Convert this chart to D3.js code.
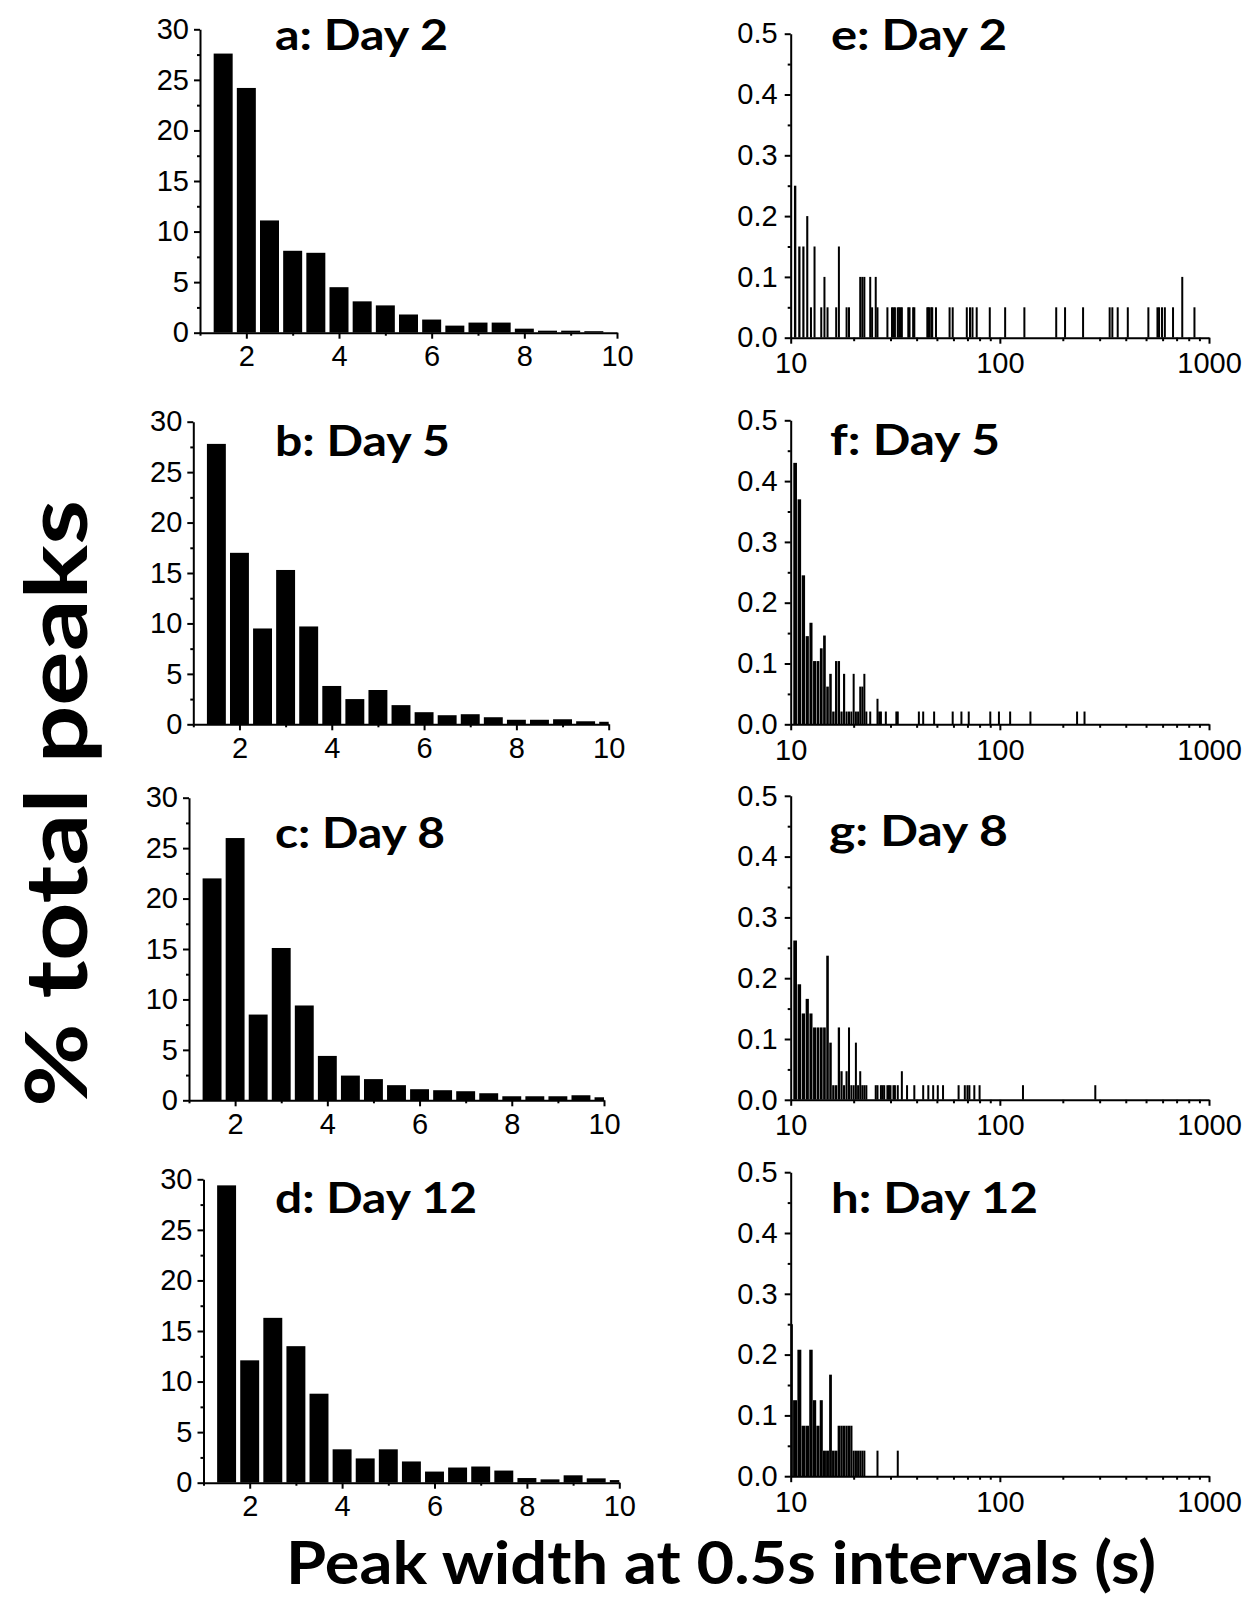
<!DOCTYPE html>
<html><head><meta charset="utf-8">
<script src="https://cdn.jsdelivr.net/npm/d3@7"></script>
<style>body{margin:0;background:#fff} svg{display:block;background:#fff}</style>
</head><body>
<svg id="chart" width="1260" height="1600"></svg>
<script>
// ---------- DATA ----------
// Left column: peak width bins (s) and % of total peaks
const binCenters = [1.5,2,2.5,3,3.5,4,4.5,5,5.5,6,6.5,7,7.5,8,8.5,9,9.5,10];
const pctDay2  = [27.6,24.2,11.1,8.1,7.9,4.5,3.1,2.7,1.8,1.3,0.7,1.0,1.0,0.4,0.2,0.2,0.15,0];
const pctDay5  = [27.8,17.0,9.5,15.3,9.7,3.8,2.5,3.4,1.9,1.2,0.9,1.0,0.7,0.45,0.45,0.5,0.3,0.25];
const pctDay8  = [22.0,26.0,8.5,15.1,9.4,4.4,2.45,2.1,1.5,1.1,1.0,0.9,0.7,0.4,0.4,0.4,0.5,0.3];
const pctDay12 = [29.4,12.1,16.3,13.5,8.8,3.3,2.4,3.3,2.1,1.1,1.5,1.6,1.2,0.46,0.33,0.73,0.43,0.26];

// Right column: long peak widths (s, 0.5 s bins) and % of total peaks
const longWidthsDay2 = [10,10.5,11,11.5,12,12.5,13,14,14.5,15,16.5,17,18.5,19,21.5,22,22.5,24,24.5,25.5,26,
  29,30.5,31,31.5,32.5,33,33.5,34,36.5,37,38.5,39,45,45.5,46,47,47.5,49.5,57.5,59.5,69.5,72,74,77.5,
  89.5,106,131,186,205,250,335,345,366,409,513,567,577,596,615,673,745,852];
const longPctDay2 = [0.25,0.25,0.15,0.15,0.2,0.05,0.15,0.05,0.1,0.05,0.05,0.15,0.05,0.05,0.1,0.1,0.1,0.1,0.05,0.1,0.05,
  0.05,0.05,0.05,0.05,0.05,0.05,0.05,0.05,0.05,0.05,0.05,0.05,0.05,0.05,0.05,0.05,0.05,0.05,0.05,0.05,0.05,0.05,0.05,0.05,
  0.05,0.05,0.05,0.05,0.05,0.05,0.05,0.05,0.05,0.05,0.05,0.05,0.05,0.05,0.05,0.05,0.1,0.05];

const longWidthsDay5 = [10.5,11,11.5,12,12.5,13,13.5,14,14.5,15,15.5,16,16.5,17,17.5,18,18.5,19,19.5,20,
  20.5,21,21.5,22,22.5,23,24,26,26.5,27,28.5,32,32.5,41,43,48.5,59.5,65.5,71,90,99,112,140,234,254];
const longPctDay5 = [0.43,0.37,0.245,0.145,0.167,0.104,0.104,0.125,0.146,0.062,0.083,0.021,0.104,0.104,0.021,0.083,0.021,0.021,0.021,0.083,
  0.021,0.021,0.062,0.062,0.083,0.021,0.021,0.042,0.021,0.021,0.021,0.021,0.021,0.021,0.021,0.021,0.021,0.021,0.021,0.021,0.021,0.021,0.021,0.021,0.021];

const longWidthsDay8 = [10.5,11,11.5,12,12.5,13,13.5,14,14.5,15,15.5,16,16.5,17,17.5,18,18.5,19,19.5,20,
  20.5,21,21.5,22,22.5,23,25.5,26,27,27.5,28,29,29.5,30,31,31.5,32.5,34,36,39,
  43,45.5,48,50.5,53.5,63.5,68,70,71.5,75.5,80,129,286];
const longPctDay8 = [0.262,0.19,0.142,0.166,0.142,0.119,0.119,0.119,0.119,0.237,0.094,0.024,0.024,0.119,0.047,0.024,0.047,0.119,0.024,0.024,
  0.094,0.024,0.047,0.024,0.024,0.024,0.024,0.024,0.024,0.024,0.024,0.024,0.024,0.024,0.024,0.024,0.024,0.047,0.024,0.024,
  0.024,0.024,0.024,0.024,0.024,0.024,0.024,0.024,0.024,0.024,0.024,0.024,0.024];

const longWidthsDay12 = [10,10.5,11,11.5,12,12.5,13,13.5,14,14.5,15,15.5,16,16.5,17,17.5,18,18.5,19,19.5,
  20,20.5,21,21.5,22,22.5,26,32.5];
const longPctDay12 = [0.25,0.125,0.208,0.083,0.083,0.208,0.125,0.083,0.125,0.042,0.042,0.167,0.042,0.042,0.083,0.083,0.083,0.083,0.083,0.083,
  0.042,0.042,0.042,0.042,0.042,0.042,0.042,0.042];

const leftTitles  = ["a: Day 2","b: Day 5","c: Day 8","d: Day 12"];
const rightTitles = ["e: Day 2","f: Day 5","g: Day 8","h: Day 12"];
const leftYTicks = [0,5,10,15,20,25,30];
const leftXTicks = [2,4,6,8,10];
const rightYTicks = [0,0.1,0.2,0.3,0.4,0.5];
const rightXTicks = [10,100,1000];
const yLabel = "% total peaks";
const xLabel = "Peak width at 0.5s intervals (s)";

// ---------- LAYOUT ----------
const svg = d3.select('#chart');
const TICK_FONT = '"Liberation Sans", Arial, sans-serif';
const TITLE_FONT = 'Lato, "Open Sans", sans-serif';
const TICK_SIZE = 29;

function styleAxis(g, fontSize) {
  g.select('.domain').attr('stroke', '#000').attr('stroke-width', 2);
  g.selectAll('.tick line').attr('stroke', '#000').attr('stroke-width', 2);
  g.selectAll('.tick text').attr('font-family', TICK_FONT).attr('font-size', fontSize).attr('fill', '#000');
}

let clipCount = 0;
function leftPanel(cfg, values, title) {
  const x = d3.scaleLinear().domain([1, 10]).range([cfg.x0, cfg.x1]);
  const y = d3.scaleLinear().domain([0, 30]).range([cfg.bottom, cfg.top]);
  const g = svg.append('g');
  const id = 'clip' + (clipCount++);
  g.append('clipPath').attr('id', id).append('rect')
    .attr('x', cfg.x0).attr('y', cfg.top - 10).attr('width', cfg.x1 - cfg.x0).attr('height', cfg.bottom - cfg.top + 10);
  const barW = x(1.41) - x(1);
  g.append('g').attr('clip-path', `url(#${id})`)
    .selectAll('rect').data(binCenters.map((c, i) => ({ c, v: values[i] }))).join('rect')
    .attr('x', d => x(d.c) - barW / 2).attr('width', barW)
    .attr('y', d => y(d.v)).attr('height', d => y(0) - y(d.v)).attr('fill', '#000');

  const yMinor = g.append('g').attr('transform', `translate(${cfg.x0},0)`)
    .call(d3.axisLeft(y).tickValues([2.5,7.5,12.5,17.5,22.5,27.5]).tickSize(3).tickFormat(''));
  yMinor.select('.domain').remove(); styleAxis(yMinor, TICK_SIZE);
  const xMinor = g.append('g').attr('transform', `translate(0,${cfg.bottom})`)
    .call(d3.axisBottom(x).tickValues([1,3,5,7,9]).tickSize(3).tickFormat(''));
  xMinor.select('.domain').remove(); styleAxis(xMinor, TICK_SIZE);

  const ya = g.append('g').attr('transform', `translate(${cfg.x0},0)`)
    .call(d3.axisLeft(y).tickValues(leftYTicks).tickSize(6).tickSizeOuter(0).tickPadding(5));
  styleAxis(ya, TICK_SIZE);
  const xa = g.append('g').attr('transform', `translate(0,${cfg.bottom})`)
    .call(d3.axisBottom(x).tickValues(leftXTicks).tickSize(6).tickSizeOuter(0).tickPadding(7));
  styleAxis(xa, TICK_SIZE);

  g.append('text').attr('x', cfg.tx).attr('y', cfg.ty).text(title)
    .attr('font-family', TITLE_FONT).attr('font-weight', 700).attr('font-size', 42)
    .attr('textLength', cfg.tl).attr('lengthAdjust', 'spacingAndGlyphs').attr('fill', '#000');
}

function rightPanel(cfg, widths, values, title) {
  const x = d3.scaleLog().domain([10, 1000]).range([790.7, 1209]);
  const y = d3.scaleLinear().domain([0, 0.5]).range([cfg.bottom, cfg.top]);
  const g = svg.append('g');
  const id = 'clip' + (clipCount++);
  g.append('clipPath').attr('id', id).append('rect')
    .attr('x', x(10)).attr('y', cfg.top - 10).attr('width', x(1000) - x(10)).attr('height', cfg.bottom - cfg.top + 10);
  const data = widths.map((w, i) => ({ w, v: values[i] }));
  const bw = d => Math.max(2, (x(d.w + 0.25) - x(d.w - 0.25)) * cfg.frac);
  g.append('g').attr('clip-path', `url(#${id})`)
    .selectAll('rect').data(data).join('rect')
    .attr('x', d => x(d.w) - bw(d) / 2).attr('width', bw)
    .attr('y', d => y(d.v)).attr('height', d => y(0) - y(d.v)).attr('fill', '#000');

  const minorX = [];
  [10, 100].forEach(dec => { for (let k = 2; k <= 9; k++) minorX.push(k * dec); });
  const yMinor = g.append('g').attr('transform', `translate(${x(10)},0)`)
    .call(d3.axisLeft(y).tickValues([0.05,0.15,0.25,0.35,0.45]).tickSize(3).tickFormat(''));
  yMinor.select('.domain').remove(); styleAxis(yMinor, TICK_SIZE);
  const xMinor = g.append('g').attr('transform', `translate(0,${cfg.bottom})`)
    .call(d3.axisBottom(x).tickValues(minorX).tickSize(3.5).tickFormat(''));
  xMinor.select('.domain').remove(); styleAxis(xMinor, TICK_SIZE);

  const ya = g.append('g').attr('transform', `translate(${x(10)},0)`)
    .call(d3.axisLeft(y).tickValues(rightYTicks).tickSize(6).tickSizeOuter(0).tickPadding(7).tickFormat(d3.format('.1f')));
  styleAxis(ya, TICK_SIZE);
  const xa = g.append('g').attr('transform', `translate(0,${cfg.bottom})`)
    .call(d3.axisBottom(x).tickValues(rightXTicks).tickSize(6).tickSizeOuter(0).tickPadding(9).tickFormat(d3.format('d')));
  styleAxis(xa, TICK_SIZE);

  g.append('text').attr('x', cfg.tx).attr('y', cfg.ty).text(title)
    .attr('font-family', TITLE_FONT).attr('font-weight', 700).attr('font-size', 42)
    .attr('textLength', cfg.tl).attr('lengthAdjust', 'spacingAndGlyphs').attr('fill', '#000');
}

const leftCfg = [
  { x0: 200,   x1: 617,   top: 29.3,   bottom: 332.7,  tx: 275, ty: 50,     tl: 173 },
  { x0: 193.3, x1: 608.7, top: 421.7,  bottom: 724.3,  tx: 275, ty: 456,    tl: 175 },
  { x0: 189,   x1: 604,   top: 797.7,  bottom: 1100.3, tx: 275, ty: 847.7,  tl: 170 },
  { x0: 203.5, x1: 619.3, top: 1179.3, bottom: 1482.7, tx: 275, ty: 1213.3, tl: 202 }
];
const rightCfg = [
  { top: 33.7,   bottom: 337.7,  tx: 831, ty: 50,   tl: 176, frac: 0.55 },
  { top: 420.3,  bottom: 724.3,  tx: 830, ty: 455,  tl: 170, frac: 0.85 },
  { top: 795.8,  bottom: 1099.8, tx: 829, ty: 846,  tl: 179, frac: 0.85 },
  { top: 1172.2, bottom: 1476.2, tx: 831, ty: 1213, tl: 207, frac: 0.95 }
];

const leftSeries = [pctDay2, pctDay5, pctDay8, pctDay12];
leftSeries.forEach((vals, i) => leftPanel(leftCfg[i], vals, leftTitles[i]));
const rightSeries = [
  [longWidthsDay2, longPctDay2], [longWidthsDay5, longPctDay5],
  [longWidthsDay8, longPctDay8], [longWidthsDay12, longPctDay12]
];
rightSeries.forEach((s, i) => rightPanel(rightCfg[i], s[0], s[1], rightTitles[i]));

// Shared axis labels
svg.append('text').attr('transform', 'translate(87,803.5) rotate(-90)')
  .attr('text-anchor', 'middle').text(yLabel)
  .attr('font-family', TITLE_FONT).attr('font-weight', 700).attr('font-size', 87)
  .attr('textLength', 607).attr('lengthAdjust', 'spacingAndGlyphs').attr('fill', '#000');
svg.append('text').attr('x', 286).attr('y', 1584).text(xLabel)
  .attr('font-family', TITLE_FONT).attr('font-weight', 700).attr('font-size', 59)
  .attr('textLength', 870).attr('lengthAdjust', 'spacingAndGlyphs').attr('fill', '#000');
</script>
</body></html>
